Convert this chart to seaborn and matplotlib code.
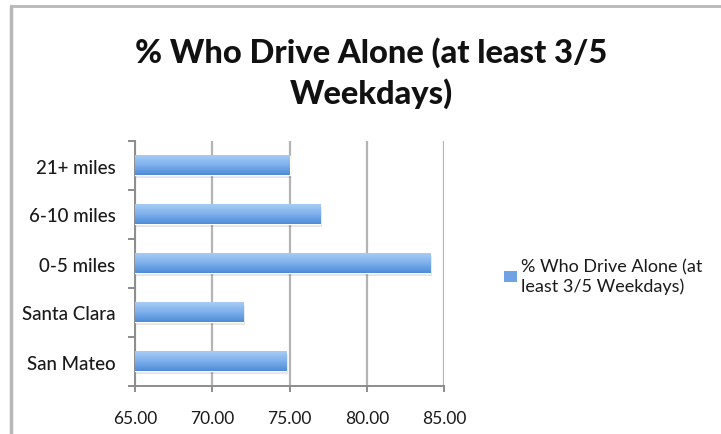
import matplotlib
matplotlib.use("Agg")
import matplotlib.pyplot as plt
import matplotlib.patches as mpatches
from matplotlib.colors import LinearSegmentedColormap
import numpy as np
import pandas as pd
import seaborn as sns

# Share of commuters who drive alone, by group
categories = ["21+ miles", "6-10 miles", "0-5 miles", "Santa Clara", "San Mateo"]
values = [75.0, 77.0, 84.1, 72.0, 74.8]
x_ticks = [65.0, 70.0, 75.0, 80.0, 85.0]
series_name = "% Who Drive Alone (at\nleast 3/5 Weekdays)"
title_text = "% Who Drive Alone (at least 3/5\nWeekdays)"

df = pd.DataFrame({"group": categories, "pct": values})

sns.set_theme(style="white")
plt.rcParams["font.family"] = ["Lato", "DejaVu Sans"]

fig = plt.figure(figsize=(7.21, 4.35), dpi=100)
ax = fig.add_axes([135 / 721, 1 - 387 / 435, (444 - 135) / 721, (387 - 142) / 435])

bar_color = "#6fa3e3"
sns.barplot(data=df, x="pct", y="group", orient="h", color=bar_color,
            width=0.4, ax=ax, saturation=1, zorder=3)

xmin, xmax = x_ticks[0], x_ticks[-1]

# vertical gradient fill on the visible part of each bar, plus a soft shadow
grad = LinearSegmentedColormap.from_list("bar", ["#a6ccf5", "#7db0ec", "#4d8bd8"])
gimg = np.linspace(0, 1, 64).reshape(-1, 1)
for p in list(ax.patches):
    x0, y0 = p.get_x(), p.get_y()
    w, h = p.get_width(), p.get_height()
    left = max(x0, xmin)
    right = x0 + w
    sh = mpatches.Rectangle((left, y0 + 0.05), right - left + 0.12, h,
                            facecolor="#000000", alpha=0.10, edgecolor="none", zorder=2)
    ax.add_patch(sh)
    ax.imshow(gimg, cmap=grad, aspect="auto", extent=(left, right, y0 + h, y0),
              zorder=4, interpolation="bilinear")

ax.set_xlim(xmin, xmax)
ax.set_ylim(len(categories) - 0.5, -0.5)

ax.set_xticks(x_ticks)
ax.set_xticklabels([f"{t:.2f}" for t in x_ticks])
ax.set_yticks(np.arange(len(categories)))
ax.set_yticklabels(categories)
ax.set_xlabel("")
ax.set_ylabel("")

ax.grid(axis="x", color="#b4b4b4", linewidth=1.6, zorder=0)
ax.set_axisbelow(True)
for s in ["top", "right"]:
    ax.spines[s].set_visible(False)
for s in ["left", "bottom"]:
    ax.spines[s].set_visible(True)
    ax.spines[s].set_color("#8c8c8c")
    ax.spines[s].set_linewidth(1.4)

# category ticks sit between bars
ax.set_yticks(np.arange(-0.5, len(categories) + 0.5, 1.0), minor=True)
ax.tick_params(axis="y", which="major", length=0, pad=14, labelsize=13.5, labelcolor="#1a1a1a")
ax.tick_params(axis="y", which="minor", left=True, length=5, width=1.4, color="#8c8c8c")
ax.tick_params(axis="x", which="major", bottom=True, length=4, width=1.4, color="#8c8c8c",
               pad=13, labelsize=12.5, labelcolor="#1a1a1a")
for lab in ax.get_yticklabels():
    lab.set_fontweight("medium")

fig.text(371 / 721, 1 - 73 / 435, title_text, ha="center", va="center",
         fontsize=23.5, fontweight="black", color="#111111", linespacing=1.42)

handle = mpatches.Patch(facecolor=bar_color, edgecolor="none")
fig.legend([handle], [series_name], loc="center left",
           bbox_to_anchor=(488 / 721, 1 - 277 / 435), frameon=False,
           fontsize=13, handlelength=0.7, handleheight=0.55, handletextpad=0.25,
           labelspacing=0.3, labelcolor="#1a1a1a")

# outer chart frame
fig.add_artist(plt.Line2D([10.5 / 721, 10.5 / 721], [0, 1 - 7 / 435],
                          transform=fig.transFigure, color="#b8b8b8", linewidth=2.5))
fig.add_artist(plt.Line2D([10.5 / 721, 1], [1 - 7 / 435, 1 - 7 / 435],
                          transform=fig.transFigure, color="#b8b8b8", linewidth=2.0))

fig.savefig("out.png", dpi=100, facecolor="white")
